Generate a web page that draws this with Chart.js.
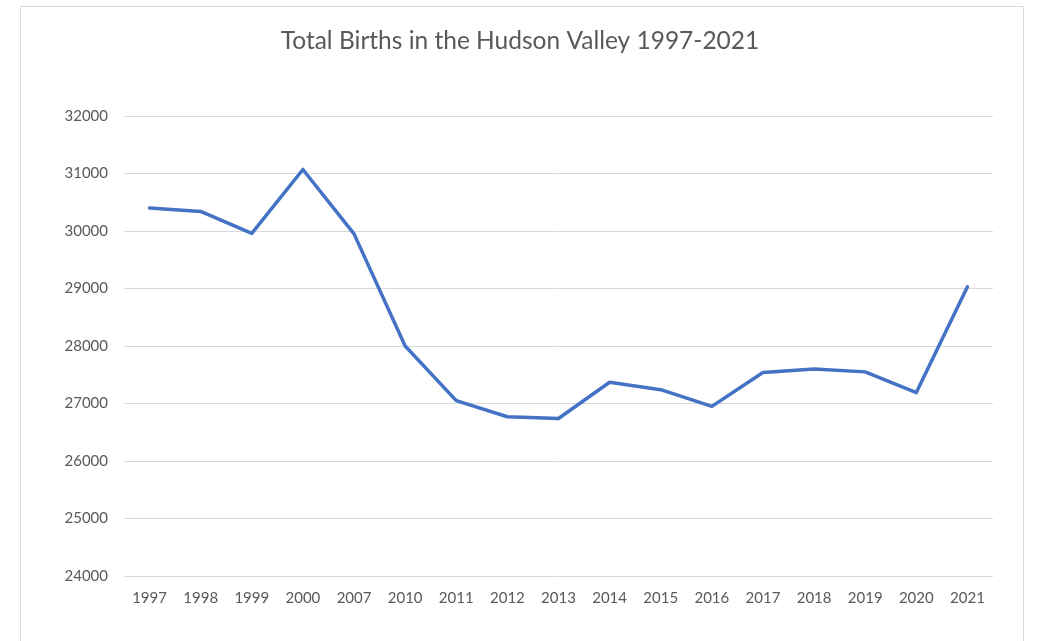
<!DOCTYPE html>
<html>
<head>
<meta charset="utf-8">
<script src="https://cdn.jsdelivr.net/npm/chart.js@4"></script>
<style>
  html, body { margin: 0; padding: 0; background: #fff; overflow: hidden; }
  #frame { position: absolute; left: 20px; top: 6px; width: 1002px; height: 700px; border: 1px solid #d9d9d9; }
  #wrap { position: absolute; left: 0; top: 0; width: 1038px; height: 641px; }
</style>
</head>
<body>
<div id="frame"></div>
<div id="wrap"><canvas id="chart_line"></canvas></div>
<script>
// Data
years = ["1997", "1998", "1999", "2000", "2007", "2010", "2011", "2012", "2013", "2014", "2015", "2016", "2017", "2018", "2019", "2020", "2021"]
births = [30400, 30340, 29960, 31070, 29950, 28000, 27050, 26770, 26740, 27370, 27240, 26950, 27540, 27600, 27550, 27190, 29030]
y_min = 24000
y_max = 32000
y_step = 1000
chart_title = "Total Births in the Hudson Valley 1997-2021"

var font_family = "Lato, 'Open Sans', sans-serif"
var text_color = "#595959"

var config = {
    type: 'line',
    data: {
        labels: years,
        datasets: [{
            label: "Births",
            data: births,
            borderColor: "#4472C4",
            backgroundColor: "#4472C4",
            borderWidth: 3.5,
            borderJoinStyle: 'round',
            borderCapStyle: 'round',
            pointRadius: 0,
            pointHoverRadius: 0,
            tension: 0,
            fill: false
        }]
    },
    options: {
        responsive: false,
        animation: false,
        layout: {
            padding: { left: 22, right: 20, top: 0, bottom: 0 }
        },
        plugins: {
            legend: { display: false },
            tooltip: { enabled: false },
            title: {
                display: true,
                text: chart_title,
                color: text_color,
                font: { family: font_family, size: 24.5, weight: 'normal' },
                padding: { top: 26, bottom: 60.6 }
            }
        },
        scales: {
            x: {
                offset: true,
                grid: { display: false, drawTicks: false },
                border: { display: false },
                ticks: {
                    color: text_color,
                    font: { family: font_family, size: 15 },
                    padding: 13,
                    maxRotation: 0,
                    autoSkip: false
                },
                afterFit: function(scale) { scale.height = 65 }
            },
            y: {
                min: y_min,
                max: y_max,
                grid: { color: "#d9d9d9", lineWidth: 1, drawTicks: false },
                border: { display: false },
                ticks: {
                    stepSize: y_step,
                    color: text_color,
                    font: { family: font_family, size: 15 },
                    padding: 16,
                    callback: function(value) { return String(value) }
                },
                afterFit: function(scale) { scale.width = 102 }
            },
            // empty right margin so the title centres on the frame
            right_space: {
                position: 'right',
                min: 0,
                max: 1,
                grid: { display: false, drawTicks: false },
                border: { display: false },
                ticks: { display: false },
                afterFit: function(scale) { scale.width = 25 }
            }
        }
    }
};

var canvas = document.getElementById("chart_line");
canvas.width = 1038;
canvas.height = 641;
var ch_line = new Chart(canvas, config);
</script>
</body>
</html>
